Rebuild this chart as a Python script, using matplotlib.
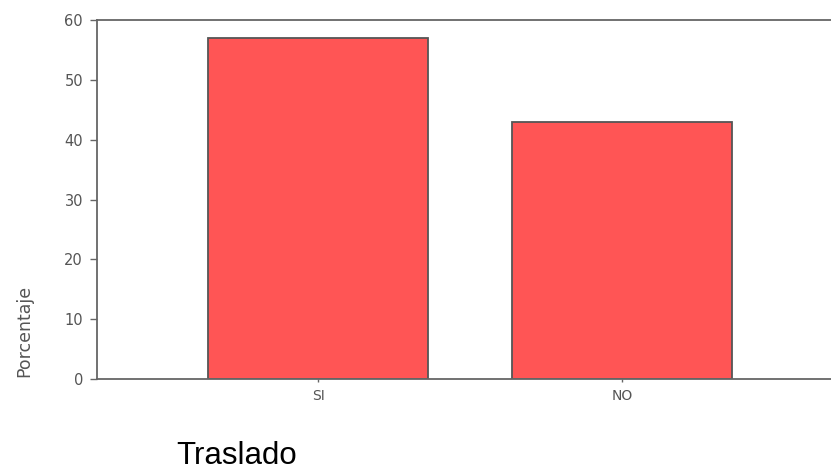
import matplotlib
matplotlib.use("Agg")
import matplotlib.pyplot as plt

categories = ["SI", "NO"]
values = [57, 43]
yticks = [0, 10, 20, 30, 40, 50, 60]
ylabel = "Porcentaje"
title_text = "Traslado"

W, H = 831, 470
fig = plt.figure(figsize=(W / 100, H / 100), dpi=100)
ax = fig.add_axes([97 / W, 1 - 379 / H, 1 - 97 / W, (379 - 20) / H])

x = list(range(len(categories)))
ax.bar(x, values, width=0.724, color="#FF5555", edgecolor="#555555", linewidth=1.3, zorder=2)

ax.set_xlim(-0.727, 1.6875)
ax.set_ylim(0, 60)
ax.set_yticks(yticks)
ax.set_xticks(x)
ax.set_xticklabels(categories)

for s in ["left", "top", "bottom"]:
    ax.spines[s].set_color("#666666")
    ax.spines[s].set_linewidth(1.3)
ax.spines["right"].set_visible(False)

ax.tick_params(axis="y", length=5, width=1.0, color="#666666", pad=5,
               labelsize=10.5, labelcolor="#555555")
ax.tick_params(axis="x", length=2, width=1.0, color="#666666", pad=5,
               labelsize=10, labelcolor="#555555")
for lab in ax.get_xticklabels() + ax.get_yticklabels():
    lab.set_family(["DejaVu Sans"])

fig.text(24 / W, 1 - 377 / H, ylabel, rotation=90, ha="center", va="bottom",
         fontsize=12.5, color="#555555",
         family=["Liberation Sans Narrow", "DejaVu Sans"])
fig.text(176 / W, 1 - 464 / H, title_text, ha="left", va="baseline",
         fontsize=22.5, color="black", family=["Liberation Sans", "DejaVu Sans"])

fig.savefig("out.png", dpi=100)
